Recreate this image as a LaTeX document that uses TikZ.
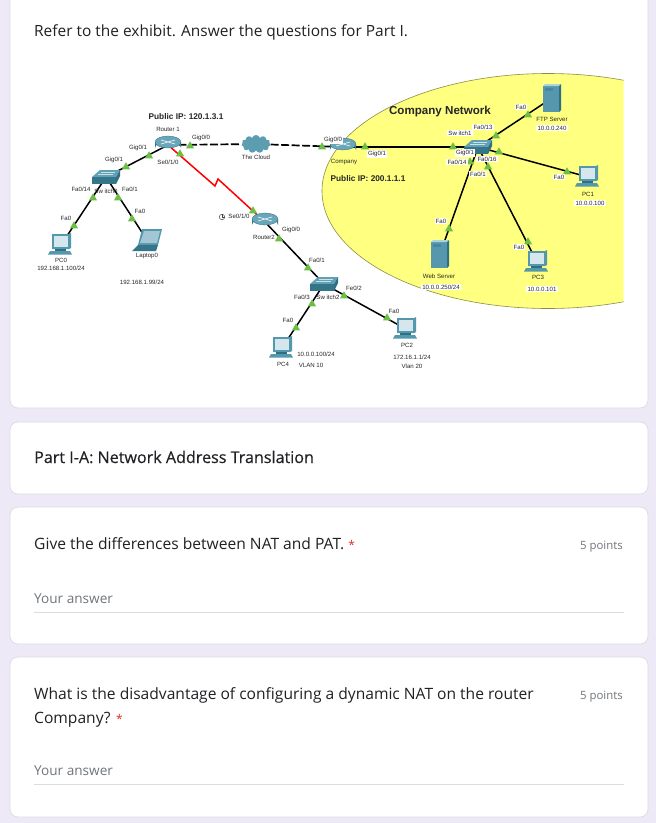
\documentclass[tikz,border=0pt]{standalone}
\usepackage{fontspec}
\setmainfont{Open Sans}
\newfontfamily\netfont{Liberation Sans}
\newfontfamily\medfont[FakeBold=0.35]{Open Sans}
\usetikzlibrary{shapes.geometric,shapes.symbols}
\definecolor{pagebg}{HTML}{EDE9F7}
\definecolor{cardline}{HTML}{DADCE0}
\definecolor{inktext}{HTML}{202124}
\definecolor{mutetext}{HTML}{70757A}
\definecolor{netyellow}{HTML}{FFFF80}
\definecolor{tealdark}{HTML}{2F6F84}
\definecolor{tealmid}{HTML}{5597AD}
\definecolor{teallight}{HTML}{A9D3DF}
\definecolor{screenblue}{HTML}{D5E6EC}
\definecolor{linkgreen}{HTML}{6DBE45}
\definecolor{starred}{HTML}{D93025}
\newcommand{\netsize}{\fontsize{6.1}{7}\selectfont}
\newcommand{\asksize}{\fontsize{15.6}{18}\selectfont}
\newcommand{\askstar}{\textcolor{starred}{\fontsize{12}{12}\selectfont *}}
\tikzset{
  card/.style = {fill=white, draw=cardline, rounded corners=8pt, line width=0.7pt},
  link/.style = {draw=black, line width=1.5pt},
  wan/.style = {draw=black, line width=1.7pt, dash pattern=on 8pt off 2.5pt},
  serial/.style = {draw=red, line width=1.5pt},
  portup/.style = {regular polygon, regular polygon sides=3, fill=linkgreen, inner sep=0pt, minimum size=9.5pt},
  lbl/.style = {font=\netfont\netsize, inner sep=0.6pt, text=black!85},
  lblw/.style = {lbl, fill=white, inner sep=1.2pt},
  headlbl/.style = {font=\netfont\bfseries\fontsize{8.3}{10}\selectfont, text=black!85},
  ask/.style = {anchor=base west, font=\asksize, text=inktext, inner sep=0pt},
  hint/.style = {anchor=base west, font=\fontsize{13.6}{15}\selectfont, text=mutetext, inner sep=0pt},
  pts/.style = {anchor=base east, font=\fontsize{11.4}{14}\selectfont, text=mutetext, inner sep=0pt},
  router/.pic = {
    \shade[left color=tealdark, right color=tealdark, middle color=white] (-13,-3) -- (-13,3) arc[start angle=180, end angle=360, x radius=13, y radius=6.5] -- (13,-3) -- cycle;
    \fill[tealmid!75!teallight, draw=tealdark, line width=0.3pt] (0,-3) ellipse[x radius=13, y radius=6];
    \draw[white, line width=0.6pt] (-7,-5) -- (7,-1) (-7,-1) -- (7,-5);
  },
  switch/.pic = {
    \fill[tealmid!85!teallight] (-14,0) -- (-6,-7) -- (14,-7) -- (10,0) -- cycle;
    \fill[tealdark!85!tealmid] (-14,0) -- (10,0) -- (10,7) -- (-14,7) -- cycle;
    \fill[tealdark] (10,0) -- (14,-7) -- (14,-1) -- (10,7) -- cycle;
    \draw[white!70!tealmid, line width=0.25pt] (-8,-2.5) -- (7,-2.5) (-5,-5) -- (9,-5);
  },
  desktop/.pic = {
    \fill[tealmid] (-9,-11) -- (8,-11) -- (10,-12) -- (10,3) -- (8,4) -- (-9,4) -- cycle;
    \fill[screenblue] (-7,-9) rectangle (7,2);
    \fill[tealdark] (-6,4) rectangle (5,6);
    \fill[tealmid] (-11,6) -- (9,6) -- (11,9.5) -- (-13,9.5) -- cycle;
  },
  laptop/.pic = {
    \fill[tealmid] (-5,-11) -- (15,-11) -- (11,5) -- (-9,5) -- cycle;
    \fill[screenblue!60!tealmid] (-3,-9) -- (13,-9) -- (10,3) -- (-7,3) -- cycle;
    \fill[tealdark!85!tealmid] (-9,5) -- (11,5) -- (9,11) -- (-15,11) -- cycle;
  },
  tower/.pic = {
    \fill[tealmid] (-9,-12) rectangle (7,14);
    \fill[teallight] (-9,-12) -- (-7,-14) -- (9,-14) -- (7,-12) -- cycle;
    \fill[tealdark] (7,-12) -- (9,-14) -- (9,12) -- (7,14) -- cycle;
    \fill[tealdark!40!tealmid] (-7,-10) rectangle (1,-7);
  },
}
\begin{document}
\begin{tikzpicture}[x=1pt,y=-1pt]
  \useasboundingbox (0,0) rectangle (656,823);
  \fill[pagebg] (0,0) rectangle (656,823);
  % cards
  \draw[card] (10,-12) rectangle (648,408);
  \draw[card] (10,422) rectangle (648,494);
  \draw[card] (10,507) rectangle (648,644);
  \draw[card] (10,657) rectangle (648,817);
  % company area
  \begin{scope}
    \clip (300,60) rectangle (623.5,320);
    \draw[fill=netyellow, draw=black!45!netyellow, line width=0.6pt] (548,191) ellipse[x radius=226, y radius=117.5];
  \end{scope}
  % devices
  \coordinate (routerone) at (168,145);
  \coordinate (switchzero) at (106,177);
  \coordinate (pczero) at (61,245);
  \coordinate (laptopzero) at (147,240);
  \coordinate (routertwo) at (265,222);
  \coordinate (switchtwo) at (324,284);
  \coordinate (pcfour) at (282,348);
  \coordinate (pctwo) at (406,329);
  \coordinate (company) at (343,147);
  \coordinate (switchone) at (478,147);
  \coordinate (ftpserver) at (552,98);
  \coordinate (pcone) at (588,177);
  \coordinate (webserver) at (440,254);
  \coordinate (pcthree) at (537,262);
  \coordinate (zigup) at (215,186);
  \coordinate (zigdown) at (218,179);
  \node[cloud, cloud puffs=11, fill=tealmid!90!teallight, minimum width=29pt, minimum height=18pt, inner sep=0pt, aspect=1.6] (thecloud) at (256,144) {};
  % links
  \draw[wan] (routerone) -- (thecloud);
  \draw[wan] (thecloud) -- (company);
  \draw[serial] (routerone) -- (zigup) -- (zigdown) -- (routertwo);
  \foreach \a/\b in {routerone/switchzero, switchzero/pczero, switchzero/laptopzero, routertwo/switchtwo, switchtwo/pcfour, switchtwo/pctwo, company/switchone, switchone/ftpserver, switchone/pcone, switchone/webserver, switchone/pcthree}
    \draw[link] (\a) -- (\b);
  % icons
  \pic at (routerone) {router};
  \pic at (routertwo) {router};
  \pic at (company) {router};
  \pic at (switchzero) {switch};
  \pic at (switchone) {switch};
  \pic at (switchtwo) {switch};
  \pic at (pczero) {desktop};
  \pic at (pcfour) {desktop};
  \pic at (pctwo) {desktop};
  \pic at (pcone) {desktop};
  \pic at (pcthree) {desktop};
  \pic at (laptopzero) {laptop};
  \pic at (ftpserver) {tower};
  \pic at (webserver) {tower};
  % port lights
  \foreach[count=\i] \x/\y in {190/146, 149/156, 126/167, 93/198, 118/198, 132/219, 74/226, 180/154, 253/211, 279/239, 308/268, 344/296, 312/304, 296/328, 387/318, 449/229, 528/242, 322/147, 365/147, 453/147, 496/136, 528/115, 499/152, 567/172, 488/167, 470/162}
    \node[portup] (port\i) at (\x,\y) {};
  % labels outside
  \foreach[count=\i] \x/\y/\t in {168/129/{Router 1}, 201/138/{Gig0/0}, 138/148/{Gig0/1}, 114/160/{Gig0/1}, 168/162/{Se0/1/0}, 256/157/{The Cloud}, 81/189/{Fa0/14}, 106/191/{Sw itch0}, 130/189/{Fa0/1}, 140/211/{Fa0}, 66/218/{Fa0}, 61/260/{PC0}, 61/268/{192.168.1.100/24}, 147/256/{Laptop0}, 142/282/{192.168.1.99/24}, 239/216/{Se0/1/0}, 264/237/{Router2}, 291/230/{Gig0/0}, 317/260/{Fa0/1}, 328/297/{Sw itch2}, 302/297/{Fa0/3}, 354/288/{Fe0/2}, 288/320/{Fa0}, 394/311/{Fa0}, 283/364/{PC4}, 316/354/{10.0.0.100/24}, 311/365/{VLAN 10}, 407/345/{PC2}, 412/357/{172.16.1.1/24}, 412/366/{Vlan 20}, 344/162/{Company}, 439/276/{Web Server}, 538/277/{PC3}, 552/119/{FTP Server}, 588/194/{PC1}}
    \node[lbl] (lab\i) at (\x,\y) {\t};
  % labels on white
  \foreach[count=\i] \x/\y/\t in {333/140/{Gig0/0}, 377/154/{Gig0/1}, 465/153/{Gig0/1}, 460/133/{Sw itch1}, 483/127/{Fa0/13}, 457/162/{Fa0/14}, 487/159/{Fa0/16}, 478/174/{Fa0/1}, 521/107/{Fa0}, 552/128/{10.0.0.240}, 559/177/{Fa0}, 590/203/{10.0.0.100}, 441/221/{Fa0}, 519/247/{Fa0}, 441/287/{10.0.0.250/24}, 542/289/{10.0.0.101}}
    \node[lblw] (tag\i) at (\x,\y) {\t};
  \node[circle, draw=black!75, line width=0.45pt, inner sep=0pt, minimum size=5.5pt] (clockmark) at (222,217) {};
  \draw[black!75, line width=0.35pt] (clockmark.north) -- (clockmark.center) -- (clockmark.east);
  \node[headlbl] (pubone) at (186,117) {Public IP: 120.1.3.1};
  \node[headlbl] (pubtwo) at (368,179) {Public IP: 200.1.1.1};
  \node[headlbl, font=\netfont\bfseries\fontsize{11.6}{13}\selectfont] (companynet) at (440,111) {Company Network};
  % form text
  \node[ask, font=\fontsize{15.45}{18}\selectfont] (title) at (34,36) {Refer to the exhibit. Answer the questions for Part I.};
  \node[ask, font=\medfont\fontsize{16.1}{18}\selectfont] (parthead) at (34,463) {Part I-A: Network Address Translation};
  \node[ask] (askone) at (34,549) {Give the differences between NAT and PAT. \askstar};
  \node[pts] (ptsone) at (623,549) {5 points};
  \node[hint] (ansone) at (34,603) {Your answer};
  \node[ask] (asktwo) at (34,699) {What is the disadvantage of configuring a dynamic NAT on the router};
  \node[ask] (asktwob) at (34,723) {Company? \askstar};
  \node[pts] (ptstwo) at (623,699) {5 points};
  \node[hint] (anstwo) at (34,775) {Your answer};
  \draw[cardline] (34,612) -- (624,612);
  \draw[cardline] (34,784) -- (624,784);
\end{tikzpicture}
\end{document}
